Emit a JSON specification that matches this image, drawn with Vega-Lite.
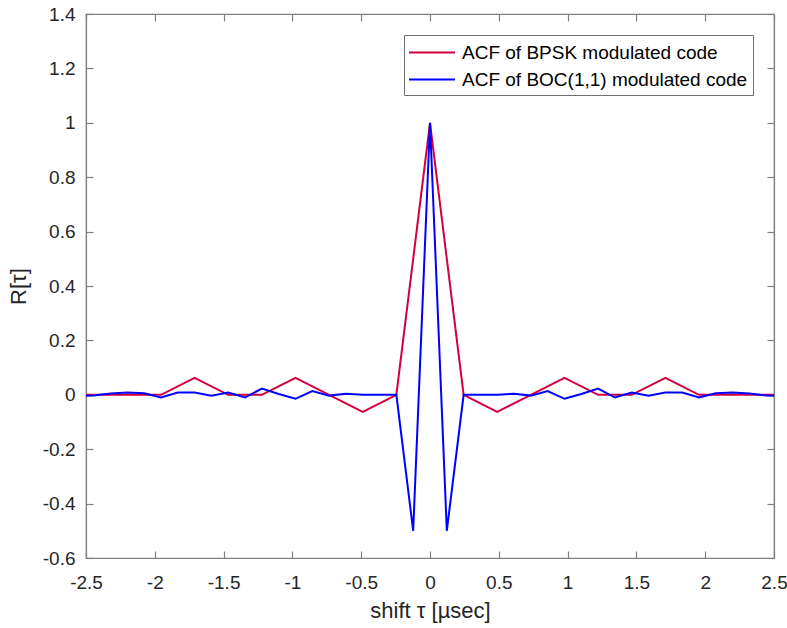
{
  "$schema": "https://vega.github.io/schema/vega-lite/v6.json",
  "width": 688,
  "height": 544,
  "autosize": {"type": "none"},
  "padding": {"left": 86, "top": 14, "right": 13, "bottom": 70},
  "background": "white",
  "config": {
    "font": "Liberation Sans",
    "view": {"stroke": "#808080", "strokeWidth": 1.2},
    "axis": {
      "domainColor": "#808080",
      "domainWidth": 1.2,
      "tickColor": "#808080",
      "tickWidth": 1.2,
      "tickSize": -7,
      "labelColor": "#262626",
      "labelFontSize": 19,
      "labelFlush": false,
      "labelOverlap": false,
      "titleColor": "#262626",
      "titleFontSize": 22,
      "titleFontWeight": "normal",
      "grid": false
    },
    "legend": {
      "labelFontSize": 19,
      "labelColor": "#000000",
      "labelLimit": 0
    }
  },
  "data": {
    "values": [
      {"series": "ACF of BPSK modulated code", "tau": -2.566, "R": 0},
      {"series": "ACF of BPSK modulated code", "tau": -2.4438, "R": 0},
      {"series": "ACF of BPSK modulated code", "tau": -2.1994, "R": 0},
      {"series": "ACF of BPSK modulated code", "tau": -1.955, "R": 0},
      {"series": "ACF of BPSK modulated code", "tau": -1.7107, "R": 0.0625},
      {"series": "ACF of BPSK modulated code", "tau": -1.4663, "R": 0},
      {"series": "ACF of BPSK modulated code", "tau": -1.2219, "R": 0},
      {"series": "ACF of BPSK modulated code", "tau": -0.9775, "R": 0.0625},
      {"series": "ACF of BPSK modulated code", "tau": -0.7331, "R": 0},
      {"series": "ACF of BPSK modulated code", "tau": -0.4888, "R": -0.0625},
      {"series": "ACF of BPSK modulated code", "tau": -0.2444, "R": 0},
      {"series": "ACF of BPSK modulated code", "tau": 0, "R": 1},
      {"series": "ACF of BPSK modulated code", "tau": 0.2444, "R": 0},
      {"series": "ACF of BPSK modulated code", "tau": 0.4888, "R": -0.0625},
      {"series": "ACF of BPSK modulated code", "tau": 0.7331, "R": 0},
      {"series": "ACF of BPSK modulated code", "tau": 0.9775, "R": 0.0625},
      {"series": "ACF of BPSK modulated code", "tau": 1.2219, "R": 0},
      {"series": "ACF of BPSK modulated code", "tau": 1.4663, "R": 0},
      {"series": "ACF of BPSK modulated code", "tau": 1.7107, "R": 0.0625},
      {"series": "ACF of BPSK modulated code", "tau": 1.955, "R": 0},
      {"series": "ACF of BPSK modulated code", "tau": 2.1994, "R": 0},
      {"series": "ACF of BPSK modulated code", "tau": 2.4438, "R": 0},
      {"series": "ACF of BPSK modulated code", "tau": 2.566, "R": 0},

      {"series": "ACF of BOC(1,1) modulated code", "tau": -2.566, "R": -0.005},
      {"series": "ACF of BOC(1,1) modulated code", "tau": -2.4438, "R": -0.003},
      {"series": "ACF of BOC(1,1) modulated code", "tau": -2.3216, "R": 0.005},
      {"series": "ACF of BOC(1,1) modulated code", "tau": -2.1994, "R": 0.008},
      {"series": "ACF of BOC(1,1) modulated code", "tau": -2.0772, "R": 0.006},
      {"series": "ACF of BOC(1,1) modulated code", "tau": -1.955, "R": -0.01},
      {"series": "ACF of BOC(1,1) modulated code", "tau": -1.8328, "R": 0.008},
      {"series": "ACF of BOC(1,1) modulated code", "tau": -1.7107, "R": 0.008},
      {"series": "ACF of BOC(1,1) modulated code", "tau": -1.5885, "R": -0.003},
      {"series": "ACF of BOC(1,1) modulated code", "tau": -1.4663, "R": 0.008},
      {"series": "ACF of BOC(1,1) modulated code", "tau": -1.3441, "R": -0.01},
      {"series": "ACF of BOC(1,1) modulated code", "tau": -1.2219, "R": 0.023},
      {"series": "ACF of BOC(1,1) modulated code", "tau": -1.0997, "R": 0.003},
      {"series": "ACF of BOC(1,1) modulated code", "tau": -0.9775, "R": -0.0147},
      {"series": "ACF of BOC(1,1) modulated code", "tau": -0.8553, "R": 0.0136},
      {"series": "ACF of BOC(1,1) modulated code", "tau": -0.7331, "R": -0.003},
      {"series": "ACF of BOC(1,1) modulated code", "tau": -0.611, "R": 0.004},
      {"series": "ACF of BOC(1,1) modulated code", "tau": -0.4888, "R": 0},
      {"series": "ACF of BOC(1,1) modulated code", "tau": -0.3666, "R": 0},
      {"series": "ACF of BOC(1,1) modulated code", "tau": -0.2444, "R": 0},
      {"series": "ACF of BOC(1,1) modulated code", "tau": -0.1222, "R": -0.5},
      {"series": "ACF of BOC(1,1) modulated code", "tau": 0, "R": 1},
      {"series": "ACF of BOC(1,1) modulated code", "tau": 0.1222, "R": -0.5},
      {"series": "ACF of BOC(1,1) modulated code", "tau": 0.2444, "R": 0},
      {"series": "ACF of BOC(1,1) modulated code", "tau": 0.3666, "R": 0},
      {"series": "ACF of BOC(1,1) modulated code", "tau": 0.4888, "R": 0},
      {"series": "ACF of BOC(1,1) modulated code", "tau": 0.611, "R": 0.004},
      {"series": "ACF of BOC(1,1) modulated code", "tau": 0.7331, "R": -0.003},
      {"series": "ACF of BOC(1,1) modulated code", "tau": 0.8553, "R": 0.0136},
      {"series": "ACF of BOC(1,1) modulated code", "tau": 0.9775, "R": -0.0147},
      {"series": "ACF of BOC(1,1) modulated code", "tau": 1.0997, "R": 0.003},
      {"series": "ACF of BOC(1,1) modulated code", "tau": 1.2219, "R": 0.023},
      {"series": "ACF of BOC(1,1) modulated code", "tau": 1.3441, "R": -0.01},
      {"series": "ACF of BOC(1,1) modulated code", "tau": 1.4663, "R": 0.008},
      {"series": "ACF of BOC(1,1) modulated code", "tau": 1.5885, "R": -0.003},
      {"series": "ACF of BOC(1,1) modulated code", "tau": 1.7107, "R": 0.008},
      {"series": "ACF of BOC(1,1) modulated code", "tau": 1.8328, "R": 0.008},
      {"series": "ACF of BOC(1,1) modulated code", "tau": 1.955, "R": -0.01},
      {"series": "ACF of BOC(1,1) modulated code", "tau": 2.0772, "R": 0.006},
      {"series": "ACF of BOC(1,1) modulated code", "tau": 2.1994, "R": 0.008},
      {"series": "ACF of BOC(1,1) modulated code", "tau": 2.3216, "R": 0.005},
      {"series": "ACF of BOC(1,1) modulated code", "tau": 2.4438, "R": -0.003},
      {"series": "ACF of BOC(1,1) modulated code", "tau": 2.566, "R": -0.005}
    ]
  },
  "resolve": {"axis": {"x": "independent", "y": "independent"}},
  "layer": [
    {
      "transform": [{"filter": "datum.series === 'ACF of BPSK modulated code'"}],
      "mark": {"type": "line", "strokeWidth": 2, "clip": true},
      "encoding": {
        "x": {
          "field": "tau", "type": "quantitative",
          "scale": {"domain": [-2.5, 2.5], "nice": false, "zero": false},
          "axis": {
            "title": "shift τ [µsec]",
            "values": [-2.5, -2, -1.5, -1, -0.5, 0, 0.5, 1, 1.5, 2, 2.5],
            "labelExpr": "'' + datum.value",
            "labelPadding": 22,
            "titlePadding": 8
          }
        },
        "y": {
          "field": "R", "type": "quantitative",
          "scale": {"domain": [-0.6, 1.4], "nice": false, "zero": false},
          "axis": {
            "title": "R[τ]",
            "values": [-0.6, -0.4, -0.2, 0, 0.2, 0.4, 0.6, 0.8, 1, 1.2, 1.4],
            "labelExpr": "'' + datum.value",
            "labelPadding": 18,
            "titlePadding": 12
          }
        },
        "color": {
          "field": "series", "type": "nominal",
          "scale": {
            "domain": ["ACF of BPSK modulated code", "ACF of BOC(1,1) modulated code"],
            "range": ["#D2003C", "#0000FF"]
          },
          "legend": {
            "title": null,
            "orient": "none",
            "legendX": 318,
            "legendY": 21,
            "fillColor": "white",
            "strokeColor": "#707070",
            "padding": 5,
            "symbolType": "M-2,0H2",
            "symbolStrokeWidth": 2,
            "symbolSize": 529,
            "symbolOffset": 10.5,
            "labelOffset": 17.5,
            "rowPadding": 4
          }
        }
      }
    },
    {
      "transform": [{"filter": "datum.series === 'ACF of BOC(1,1) modulated code'"}],
      "mark": {"type": "line", "strokeWidth": 2, "clip": true},
      "encoding": {
        "x": {"field": "tau", "type": "quantitative", "axis": null},
        "y": {"field": "R", "type": "quantitative", "axis": null},
        "color": {"field": "series", "type": "nominal"}
      }
    },
    {
      "transform": [{"filter": "datum.tau === 0"}],
      "mark": {"type": "point", "opacity": 0},
      "encoding": {
        "x": {
          "field": "tau", "type": "quantitative",
          "axis": {
            "orient": "top", "title": null, "labels": false,
            "values": [-2.5, -2, -1.5, -1, -0.5, 0, 0.5, 1, 1.5, 2, 2.5]
          }
        },
        "y": {
          "field": "R", "type": "quantitative",
          "axis": {
            "orient": "right", "title": null, "labels": false,
            "values": [-0.6, -0.4, -0.2, 0, 0.2, 0.4, 0.6, 0.8, 1, 1.2, 1.4]
          }
        }
      }
    }
  ]
}
